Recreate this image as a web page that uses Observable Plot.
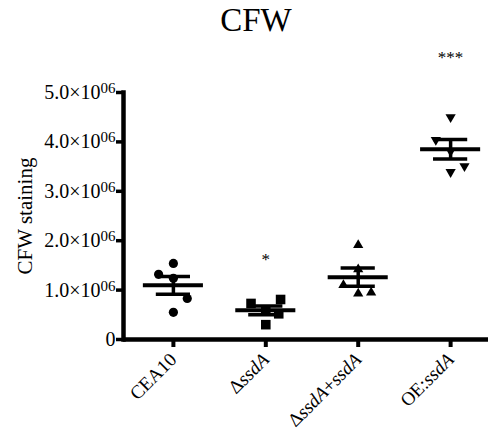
<!DOCTYPE html>
<html><head><meta charset="utf-8">
<script src="https://cdn.jsdelivr.net/npm/d3@7"></script>
<script src="https://cdn.jsdelivr.net/npm/@observablehq/plot@0.6"></script>
<style>
body{margin:0;background:#fff;}
#title{height:40px;line-height:40px;font-family:"Liberation Serif",serif;font-size:33px;text-align:center;padding-left:24px;width:464px;color:#000;}
#chart svg, #chart svg text {font-family:"Liberation Serif", serif !important;}
</style></head><body>
<div id="title">CFW</div>
<div id="chart"></div>
<script>
// ---- data ----
const categories = ["CEA10", "ΔssdA", "ΔssdA+ssdA", "OE:ssdA"];
const cea10   = [1.54e6, 1.32e6, 1.24e6, 0.83e6, 0.55e6];
const dssdA   = [0.73e6, 0.81e6, 0.30e6, 0.52e6, 0.60e6];
const dssdAc  = [1.91e6, 1.42e6, 1.10e6, 0.95e6, 0.93e6];
const oessdA  = [4.50e6, 4.04e6, 3.81e6, 3.51e6, 3.39e6];
// horizontal scatter of each replicate (in category units)
const jitter = [
  [0, -0.16, 0, 0.15, 0],
  [-0.16, 0.16, 0, 0.14, 0],
  [0, 0, -0.16, 0.14, 0],
  [0, -0.16, 0, 0.15, 0]
];
const yTicks = [0, 1e6, 2e6, 3e6, 4e6, 5e6];
const yTickLabels = ["0", "1.0×10^06", "2.0×10^06", "3.0×10^06", "4.0×10^06", "5.0×10^06"];
const starLabels = ["", "*", "", "***"];
const starLevels = [null, 1.62e6, null, 5.70e6];
const yLabel = "CFW staining";

// ---- derived tables ----
const groups = [cea10, dssdA, dssdAc, oessdA];
const points = groups.flatMap((vals, i) => vals.map((v, j) => ({i, x: i + jitter[i][j], y: v})));
const stats = groups.map((vals, i) => {
  const m = d3.mean(vals), sem = d3.deviation(vals) / Math.sqrt(vals.length);
  return {i, mean: m, lo: m - sem, hi: m + sem};
});
const notes = starLabels.map((t, i) => ({i, label: t, y: starLevels[i]})).filter(d => d.label);

// ---- styles ----
const shapeStyle = [
  {symbol: "circle", r: 4.6, rotate: 0},
  {symbol: "square", r: 5.4, rotate: 0},
  {symbol: "triangle", r: 3.8, rotate: 0},
  {symbol: "triangle", r: 3.8, rotate: 180}
];

const chart = Plot.plot({
  width: 488, height: 406,
  marginTop: 52, marginBottom: 107, marginLeft: 123, marginRight: 0,
  style: "font-family: 'Liberation Serif', serif; font-size: 19px; color: #000; background: #fff;",
  x: {type: "linear", domain: [-0.54, 3.41]},
  y: {domain: [0, 5e6]},
  marks: [
    Plot.axisY({ticks: yTicks, tickFormat: d => yTickLabels[yTicks.indexOf(d)], tickSize: 7, tickPadding: 1, strokeWidth: 3.5, label: null}),
    Plot.axisX({ticks: [0, 1, 2, 3], tickFormat: i => categories[i], tickSize: 8, tickPadding: 9, tickRotate: -45, strokeWidth: 4, label: null}),
    Plot.frame({anchor: "left", strokeWidth: 4.5}),
    Plot.ruleY([0], {strokeWidth: 4.5}),
    Plot.text([yLabel], {frameAnchor: "left", textAnchor: "middle", dx: -98, rotate: -90}),
    Plot.ruleY(stats, {y: "mean", x1: d => d.i - 0.325, x2: d => d.i + 0.325, strokeWidth: 4}),
    Plot.ruleY(stats, {y: "hi", x1: d => d.i - 0.185, x2: d => d.i + 0.185, strokeWidth: 3.5}),
    Plot.ruleY(stats, {y: "lo", x1: d => d.i - 0.185, x2: d => d.i + 0.185, strokeWidth: 3.5}),
    Plot.ruleX(stats, {x: "i", y1: "lo", y2: "hi", strokeWidth: 3.5}),
    ...shapeStyle.map((s, k) => Plot.dot(points.filter(d => d.i === k), {x: "x", y: "y", symbol: s.symbol, r: s.r, rotate: s.rotate, fill: "#000", stroke: "none"})),
    Plot.text(notes, {x: "i", y: "y", text: "label"})
  ]
});
document.getElementById("chart").appendChild(chart);
const root = d3.select(chart);

// superscript exponents in y tick labels
root.selectAll('g[aria-label="y-axis tick label"] text').each(function() {
  const t = this.textContent;
  const sel = d3.select(this).style("font-size", "20px");
  if (t.includes("^")) {
    const [base, exp] = t.split("^");
    sel.text(null);
    sel.append("tspan").text(base);
    sel.append("tspan").attr("dy", "-0.4em").style("font-size", "15px").text(exp);
  }
});
// italic gene names in x tick labels
root.selectAll('g[aria-label="x-axis tick label"] text').each(function() {
  const t = this.textContent;
  const parts = t.split(/(ssdA)/).filter(p => p);
  const sel = d3.select(this).style("font-size", "19px");
  sel.text(null);
  parts.forEach(p => {
    const ts = sel.append("tspan").text(p);
    if (p === "ssdA") ts.style("font-style", "italic");
  });
});
// text sizes for axis label and significance stars
root.selectAll("text").each(function() {
  const t = this.textContent;
  if (t === yLabel) d3.select(this).style("font-size", "21px");
  if (/^\*+$/.test(t)) d3.select(this).style("font-size", "17px");
});
// force style/layout resolution of all texts before the picture is taken
let measured = 0;
root.selectAll("text").each(function() {
  const b = this.getBoundingClientRect();
  const cs = getComputedStyle(this);
  measured += b.width + cs.fontSize.length + cs.fontFamily.length;
});
chart.setAttribute("data-measured", measured.toFixed(0));
</script>
</body></html>
